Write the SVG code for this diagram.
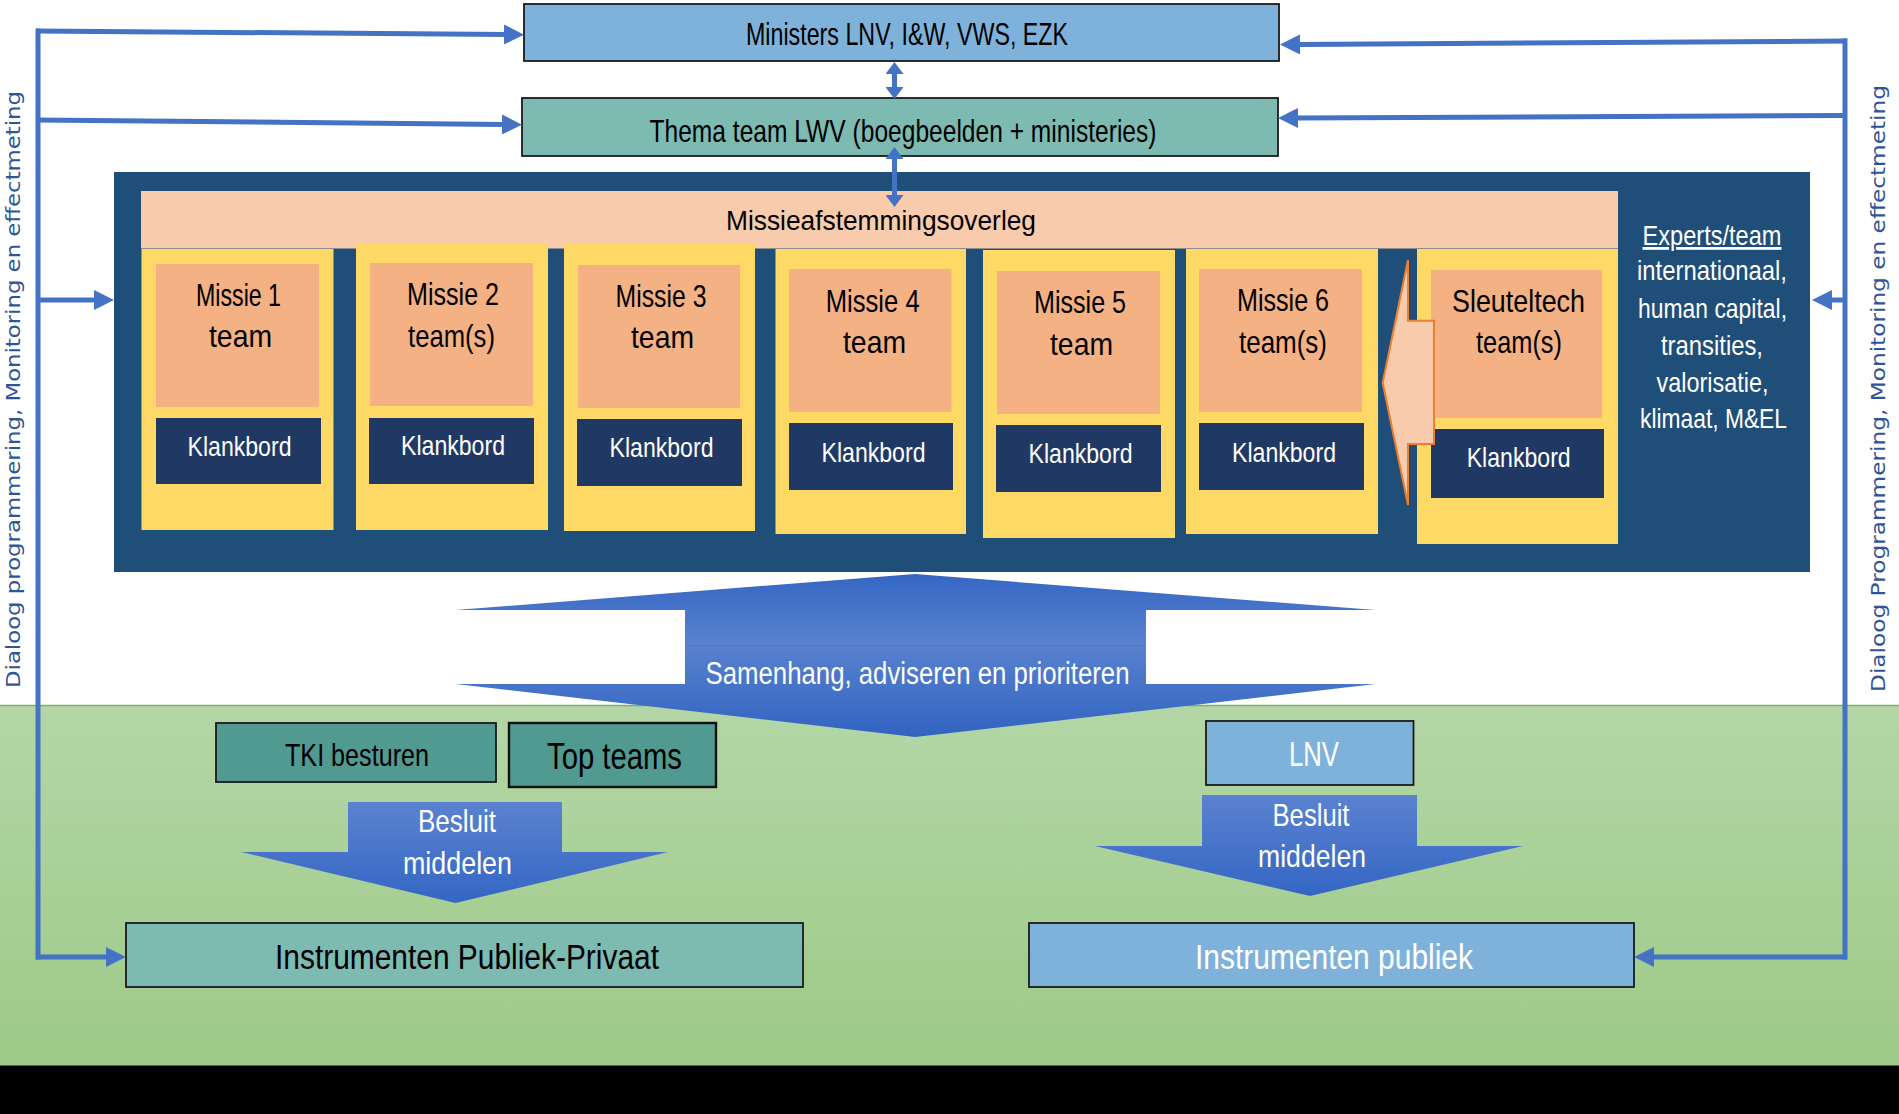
<svg xmlns="http://www.w3.org/2000/svg" width="1899" height="1114" viewBox="0 0 1899 1114">
  <defs>
    <linearGradient id="gGreen" x1="0" y1="0" x2="0" y2="1">
      <stop offset="0" stop-color="#B4D6A7"/>
      <stop offset="1" stop-color="#9DCA87"/>
    </linearGradient>
    <linearGradient id="gBig" x1="0" y1="0" x2="0" y2="1">
      <stop offset="0" stop-color="#3466C3"/>
      <stop offset="0.44" stop-color="#5B83D0"/>
      <stop offset="0.47" stop-color="#5680CE"/>
      <stop offset="1" stop-color="#3163C1"/>
    </linearGradient>
    <linearGradient id="gSmall" x1="0" y1="0" x2="0" y2="1">
      <stop offset="0" stop-color="#5B82D0"/>
      <stop offset="1" stop-color="#3466C4"/>
    </linearGradient>
    <marker id="ah" markerUnits="userSpaceOnUse" markerWidth="20" markerHeight="20" refX="2" refY="10" orient="auto">
      <path d="M0,0 L20,10 L0,20 z" fill="#4472C4"/>
    </marker>
    <marker id="ahs" markerUnits="userSpaceOnUse" markerWidth="12" markerHeight="18" refX="1" refY="9" orient="auto-start-reverse">
      <path d="M0,0 L12,9 L0,18 z" fill="#4472C4"/>
    </marker>
    <style>
      text { font-family: "Liberation Sans", Arial, sans-serif; text-anchor: middle; }
      .bx { stroke: #1a1a1a; stroke-width: 1.8; }
      .lb { fill: #7FB2DB; }
      .tl { fill: #7CBAB2; }
      .dt { fill: #519A92; }
      .yel { fill: #FFD966; }
      .org { fill: #F4B183; }
      .klb { fill: #203864; }
      .t32 { font-size: 32px; fill: #000; }
      .kt { font-size: 28px; fill: #fff; }
      .wt { fill: #fff; }
      .con { stroke: #4472C4; fill: none; stroke-width: 5; }
      .side { font-family: "DejaVu Sans", sans-serif; font-size: 20px; fill: #2F5597; text-anchor: start; }
    </style>
  </defs>

  <!-- backgrounds -->
  <rect x="0" y="0" width="1899" height="1114" fill="#FFFFFF"/>
  <rect x="0" y="705" width="1899" height="360" fill="url(#gGreen)"/>
  <line x1="0" y1="705.5" x2="1899" y2="705.5" stroke="#7DAF5E" stroke-width="1.5"/>
  <rect x="0" y="1065" width="1899" height="49" fill="#000"/>
  <line x1="0" y1="1065.5" x2="1899" y2="1065.5" stroke="#4A6B35" stroke-width="1"/>

  <!-- top nodes -->
  <g id="ministers">
    <rect class="bx lb" x="524" y="4" width="755" height="57"/>
    <text class="t32" x="907" y="45" font-size="31" textLength="322" lengthAdjust="spacingAndGlyphs">Ministers LNV, I&amp;W, VWS, EZK</text>
  </g>
  <g id="thema">
    <rect class="bx tl" x="522" y="98" width="756" height="58"/>
    <text class="t32" x="903" y="142" textLength="507" lengthAdjust="spacingAndGlyphs">Thema team LWV (boegbeelden + ministeries)</text>
  </g>

  <!-- mission panel -->
  <g id="panel">
    <rect x="114" y="172" width="1696" height="400" fill="#1F4E79"/>
  </g>
  <g id="overleg">
    <rect x="141" y="191" width="1477" height="57.5" fill="#F8CBAD"/>
    <text x="881" y="230" font-size="28" fill="#000" textLength="310" lengthAdjust="spacingAndGlyphs">Missieafstemmingsoverleg</text>
  </g>

  <g id="missie1">
    <rect class="yel" x="141.5" y="249" width="192" height="281"/>
    <rect class="org" x="156" y="264" width="163" height="143"/>
    <text class="t32" x="238.5" y="306" textLength="85" lengthAdjust="spacingAndGlyphs">Missie 1</text>
    <text class="t32" x="240.5" y="347" textLength="63" lengthAdjust="spacingAndGlyphs">team</text>
    <rect class="klb" x="156" y="418" width="165" height="66"/>
    <text class="kt" x="239.5" y="456" textLength="104" lengthAdjust="spacingAndGlyphs">Klankbord</text>
  </g>
  <g id="missie2">
    <rect class="yel" x="356" y="243" width="192" height="287"/>
    <rect class="org" x="370" y="263" width="163" height="143"/>
    <text class="t32" x="453" y="305" textLength="92" lengthAdjust="spacingAndGlyphs">Missie 2</text>
    <text class="t32" x="451.5" y="347" textLength="87" lengthAdjust="spacingAndGlyphs">team(s)</text>
    <rect class="klb" x="369" y="418" width="165" height="66"/>
    <text class="kt" x="453" y="455" textLength="104" lengthAdjust="spacingAndGlyphs">Klankbord</text>
  </g>
  <g id="missie3">
    <rect class="yel" x="564" y="244" width="191" height="287"/>
    <rect class="org" x="578" y="265" width="162" height="143"/>
    <text class="t32" x="661" y="307" textLength="91" lengthAdjust="spacingAndGlyphs">Missie 3</text>
    <text class="t32" x="662.5" y="348" textLength="63" lengthAdjust="spacingAndGlyphs">team</text>
    <rect class="klb" x="577" y="419" width="165" height="67"/>
    <text class="kt" x="661.5" y="457" textLength="104" lengthAdjust="spacingAndGlyphs">Klankbord</text>
  </g>
  <g id="missie4">
    <rect class="yel" x="775.5" y="249" width="190.5" height="285"/>
    <rect class="org" x="789" y="269" width="162.5" height="143"/>
    <text class="t32" x="872.7" y="312" textLength="94" lengthAdjust="spacingAndGlyphs">Missie 4</text>
    <text class="t32" x="874.5" y="353" textLength="63" lengthAdjust="spacingAndGlyphs">team</text>
    <rect class="klb" x="789" y="423" width="164" height="67"/>
    <text class="kt" x="873.5" y="462" textLength="104" lengthAdjust="spacingAndGlyphs">Klankbord</text>
  </g>
  <g id="missie5">
    <rect class="yel" x="983" y="250" width="192" height="288"/>
    <rect class="org" x="997" y="271" width="163" height="143"/>
    <text class="t32" x="1080" y="313" textLength="92" lengthAdjust="spacingAndGlyphs">Missie 5</text>
    <text class="t32" x="1081.5" y="355" textLength="63" lengthAdjust="spacingAndGlyphs">team</text>
    <rect class="klb" x="996" y="425" width="165" height="67"/>
    <text class="kt" x="1080.5" y="463" textLength="104" lengthAdjust="spacingAndGlyphs">Klankbord</text>
  </g>
  <g id="missie6">
    <rect class="yel" x="1186" y="249" width="192" height="285"/>
    <rect class="org" x="1199" y="269" width="163" height="143"/>
    <text class="t32" x="1283" y="311" textLength="92" lengthAdjust="spacingAndGlyphs">Missie 6</text>
    <text class="t32" x="1283" y="353" textLength="88" lengthAdjust="spacingAndGlyphs">team(s)</text>
    <rect class="klb" x="1199" y="423" width="165" height="67"/>
    <text class="kt" x="1284" y="462" textLength="104" lengthAdjust="spacingAndGlyphs">Klankbord</text>
  </g>
  <g id="sleuteltech">
    <rect class="yel" x="1417" y="249" width="201" height="295"/>
    <rect class="org" x="1431" y="270" width="171" height="148"/>
    <text class="t32" x="1518.5" y="312" textLength="133" lengthAdjust="spacingAndGlyphs">Sleuteltech</text>
    <text class="t32" x="1519" y="353" textLength="86" lengthAdjust="spacingAndGlyphs">team(s)</text>
    <rect class="klb" x="1431" y="429" width="173" height="69"/>
    <text class="kt" x="1518.7" y="467" textLength="104" lengthAdjust="spacingAndGlyphs">Klankbord</text>
  </g>
  <g id="sleutel-arrow">
    <path d="M1382.7,382.7 L1408,260 L1408,320.7 L1434,320.7 L1434,444 L1408,444 L1408,505 Z" fill="#F8CBAD" stroke="#ED7D31" stroke-width="2" stroke-linejoin="miter"/>
  </g>
  <g id="experts">
    <text x="1712" y="245" font-size="28" class="wt" text-decoration="underline" textLength="139" lengthAdjust="spacingAndGlyphs">Experts/team</text>
    <text x="1712" y="280" font-size="28" class="wt" textLength="150" lengthAdjust="spacingAndGlyphs">internationaal,</text>
    <text x="1712.5" y="318" font-size="28" class="wt" textLength="149" lengthAdjust="spacingAndGlyphs">human capital,</text>
    <text x="1712" y="355" font-size="28" class="wt" textLength="102" lengthAdjust="spacingAndGlyphs">transities,</text>
    <text x="1712.5" y="392" font-size="28" class="wt" textLength="112" lengthAdjust="spacingAndGlyphs">valorisatie,</text>
    <text x="1713.5" y="428" font-size="28" class="wt" textLength="147" lengthAdjust="spacingAndGlyphs">klimaat, M&amp;EL</text>
  </g>

  <!-- big double arrow -->
  <g id="samenhang">
    <path d="M915,574 L1375.5,610 L1146,610 L1146,684 L1375.5,684 L915,737 L455.5,684 L685,684 L685,610 L455.5,610 Z" fill="url(#gBig)"/>
    <line x1="685" y1="646" x2="1146" y2="646" stroke="#4A74C7" stroke-width="1"/>
    <text x="917.5" y="684" font-size="31" class="wt" textLength="424" lengthAdjust="spacingAndGlyphs">Samenhang, adviseren en prioriteren</text>
  </g>

  <!-- lower left -->
  <g id="tki">
    <rect class="bx dt" x="216" y="723" width="280" height="59"/>
    <text class="t32" x="357" y="766" textLength="144" lengthAdjust="spacingAndGlyphs">TKI besturen</text>
  </g>
  <g id="topteams">
    <rect class="dt" x="509" y="723" width="207" height="64" stroke="#111" stroke-width="2.4"/>
    <text x="614.5" y="769" font-size="36" fill="#000" textLength="135" lengthAdjust="spacingAndGlyphs">Top teams</text>
  </g>
  <g id="besluit-links">
    <path d="M348,802 L562,802 L562,852 L668,852 L455.5,903 L241,852 L348,852 Z" fill="url(#gSmall)"/>
    <text x="457" y="832" font-size="32" class="wt" textLength="78" lengthAdjust="spacingAndGlyphs">Besluit</text>
    <text x="457.5" y="874" font-size="32" class="wt" textLength="109" lengthAdjust="spacingAndGlyphs">middelen</text>
  </g>
  <g id="instr-pp">
    <rect class="bx tl" x="126" y="923" width="677" height="64"/>
    <text x="467" y="969" font-size="35" fill="#000" textLength="384" lengthAdjust="spacingAndGlyphs">Instrumenten Publiek-Privaat</text>
  </g>

  <!-- lower right -->
  <g id="lnv">
    <rect class="bx lb" x="1206" y="721" width="207.5" height="64"/>
    <text x="1314" y="766" font-size="35" class="wt" textLength="50" lengthAdjust="spacingAndGlyphs">LNV</text>
  </g>
  <g id="besluit-rechts">
    <path d="M1202,795 L1417,795 L1417,846 L1523,846 L1310,896 L1095,846 L1202,846 Z" fill="url(#gSmall)"/>
    <text x="1311" y="826" font-size="32" class="wt" textLength="77" lengthAdjust="spacingAndGlyphs">Besluit</text>
    <text x="1312" y="866.5" font-size="32" class="wt" textLength="108" lengthAdjust="spacingAndGlyphs">middelen</text>
  </g>
  <g id="instr-publiek">
    <rect class="bx lb" x="1029" y="923" width="605" height="64"/>
    <text x="1334" y="969" font-size="35" class="wt" textLength="278" lengthAdjust="spacingAndGlyphs">Instrumenten publiek</text>
  </g>

  <!-- side labels -->
  <g id="label-links">
    <text class="side" transform="translate(20,688) rotate(-90)" textLength="597" lengthAdjust="spacingAndGlyphs">Dialoog programmering, Monitoring en effectmeting</text>
  </g>
  <g id="label-rechts">
    <text class="side" transform="translate(1885,692) rotate(-90)" textLength="607" lengthAdjust="spacingAndGlyphs">Dialoog Programmering, Monitoring en effectmeting</text>
  </g>

  <!-- connectors -->
  <g id="connectors">
    <path class="con" stroke-width="5.5" d="M38,28.5 V959.5"/>
    <path class="con" d="M36,31 L506,34.5" marker-end="url(#ah)"/>
    <path class="con" d="M36,120 L504,124.5" marker-end="url(#ah)"/>
    <path class="con" d="M38,300 L96,300" marker-end="url(#ah)"/>
    <path class="con" d="M36,957 L108,957" marker-end="url(#ah)"/>

    <path class="con" stroke-width="5.5" d="M1845,38.5 V959.5"/>
    <path class="con" d="M1847,41 L1298,44.5" marker-end="url(#ah)"/>
    <path class="con" d="M1847,115.5 L1296,118" marker-end="url(#ah)"/>
    <path class="con" d="M1845,300 L1830,300" marker-end="url(#ah)"/>
    <path class="con" d="M1847,957 L1652,957" marker-end="url(#ah)"/>

    <path class="con" d="M894.5,73 L894.5,88" marker-start="url(#ahs)" marker-end="url(#ahs)"/>
    <path class="con" d="M894.5,158 L894.5,196" marker-start="url(#ahs)" marker-end="url(#ahs)"/>
  </g>
</svg>
